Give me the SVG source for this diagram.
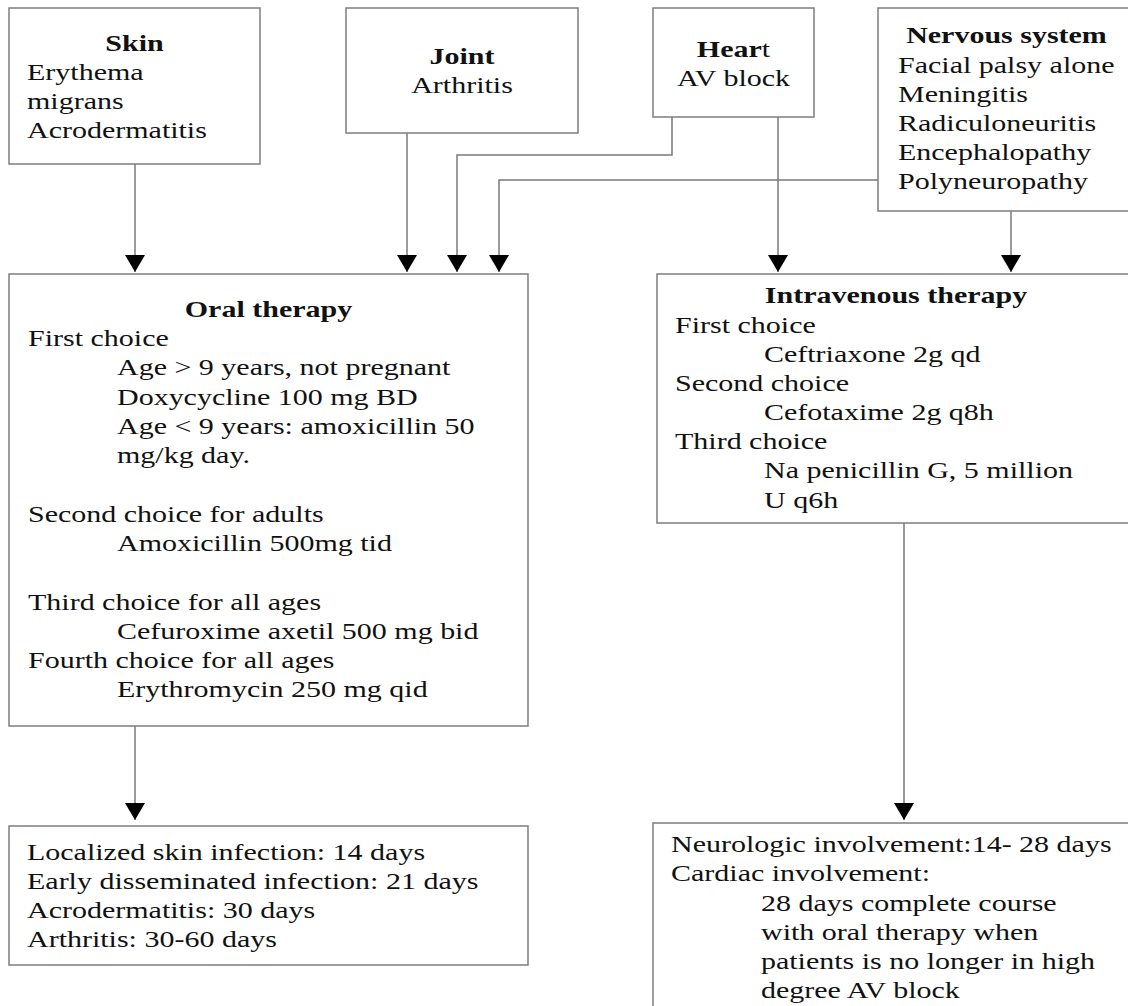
<svg xmlns="http://www.w3.org/2000/svg" width="1128" height="1006" viewBox="0 0 1128 1006">
<defs>
<style>
text{font-family:"Liberation Serif","Times New Roman",serif;font-size:24px;fill:#111;}
.b{font-weight:bold;}
.box{fill:#fff;stroke:#7d7d7d;stroke-width:1.5;}
.con{fill:none;stroke:#7a7a7a;stroke-width:1.5;}
</style>
<marker id="ah" viewBox="0 -10 17 20" refX="17" refY="0" markerWidth="17" markerHeight="20" markerUnits="userSpaceOnUse" orient="auto">
<path d="M0,-10 L17,0 L0,10 Z" fill="#000"/>
</marker>
</defs>
<rect x="0" y="0" width="1128" height="1006" fill="#fff"/>

<g id="connectors">
<path class="con" d="M135,164 V272" marker-end="url(#ah)"/>
<path class="con" d="M407,133 V272" marker-end="url(#ah)"/>
<path class="con" d="M672,117 V155 H457 V272" marker-end="url(#ah)"/>
<path class="con" d="M878,180 H499 V272" marker-end="url(#ah)"/>
<path class="con" d="M778,117 V272" marker-end="url(#ah)"/>
<path class="con" d="M1011,211 V272" marker-end="url(#ah)"/>
<path class="con" d="M135,726 V820" marker-end="url(#ah)"/>
<path class="con" d="M904,523 V820" marker-end="url(#ah)"/>
</g>

<g id="skin">
<rect class="box" x="9" y="8" width="251" height="156"/>
<text class="b" text-anchor="middle" transform="translate(134.5,51) scale(1.25,1)">Skin</text>
<g transform="translate(27,0) scale(1.25,1)">
<text x="0" y="80">Erythema</text>
<text x="0" y="109">migrans</text>
<text x="0" y="138">Acrodermatitis</text>
</g>
</g>

<g id="joint">
<rect class="box" x="346" y="8" width="232" height="125"/>
<text class="b" text-anchor="middle" transform="translate(462,64) scale(1.25,1)">Joint</text>
<text text-anchor="middle" transform="translate(462,93) scale(1.25,1)">Arthritis</text>
</g>

<g id="heart">
<rect class="box" x="653" y="8" width="161" height="109"/>
<text text-anchor="middle" transform="translate(733.5,57) scale(1.25,1)"><tspan class="b">Hear</tspan>t</text>
<text text-anchor="middle" transform="translate(733.5,86) scale(1.25,1)">AV block</text>
</g>

<g id="nervous">
<rect class="box" x="878" y="8" width="257" height="203"/>
<text class="b" text-anchor="middle" transform="translate(1006.5,43) scale(1.25,1)">Nervous system</text>
<g transform="translate(898,0) scale(1.25,1)">
<text x="0" y="73">Facial palsy alone</text>
<text x="0" y="102">Meningitis</text>
<text x="0" y="131">Radiculoneuritis</text>
<text x="0" y="160">Encephalopathy</text>
<text x="0" y="189">Polyneuropathy</text>
</g>
</g>

<g id="oral">
<rect class="box" x="9" y="274" width="519" height="452"/>
<text class="b" text-anchor="middle" transform="translate(268.5,317) scale(1.25,1)">Oral therapy</text>
<g transform="translate(28,0) scale(1.25,1)">
<text x="0" y="346">First choice</text>
<text x="71.2" y="375">Age &gt; 9 years, not pregnant</text>
<text x="71.2" y="405">Doxycycline 100 mg BD</text>
<text x="71.2" y="434">Age &lt; 9 years: amoxicillin 50</text>
<text x="71.2" y="463">mg/kg day.</text>
<text x="0" y="522">Second choice for adults</text>
<text x="71.2" y="551">Amoxicillin 500mg tid</text>
<text x="0" y="610">Third choice for all ages</text>
<text x="71.2" y="639">Cefuroxime axetil 500 mg bid</text>
<text x="0" y="668">Fourth choice for all ages</text>
<text x="71.2" y="697">Erythromycin 250 mg qid</text>
</g>
</g>

<g id="iv">
<rect class="box" x="657" y="274" width="478" height="249"/>
<text class="b" text-anchor="middle" transform="translate(896,303) scale(1.25,1)">Intravenous therapy</text>
<g transform="translate(675,0) scale(1.25,1)">
<text x="0" y="333">First choice</text>
<text x="71.2" y="362">Ceftriaxone 2g qd</text>
<text x="0" y="391.5">Second choice</text>
<text x="71.2" y="420.5">Cefotaxime 2g q8h</text>
<text x="0" y="449.5">Third choice</text>
<text x="71.2" y="478.5">Na penicillin G, 5 million</text>
<text x="71.2" y="508">U q6h</text>
</g>
</g>

<g id="oral-duration">
<rect class="box" x="9" y="826" width="519" height="139"/>
<g transform="translate(27,0) scale(1.25,1)">
<text x="0" y="860">Localized skin infection: 14 days</text>
<text x="0" y="889">Early disseminated infection: 21 days</text>
<text x="0" y="918">Acrodermatitis: 30 days</text>
<text x="0" y="947">Arthritis: 30-60 days</text>
</g>
</g>

<g id="iv-duration">
<rect class="box" x="653" y="823" width="482" height="200"/>
<g transform="translate(671,0) scale(1.25,1)">
<text x="0" y="852">Neurologic involvement:14- 28 days</text>
<text x="0" y="881">Cardiac involvement:</text>
<text x="72" y="911">28 days complete course</text>
<text x="72" y="940">with oral therapy when</text>
<text x="72" y="969">patients is no longer in high</text>
<text x="72" y="998">degree AV block</text>
</g>
</g>
</svg>
